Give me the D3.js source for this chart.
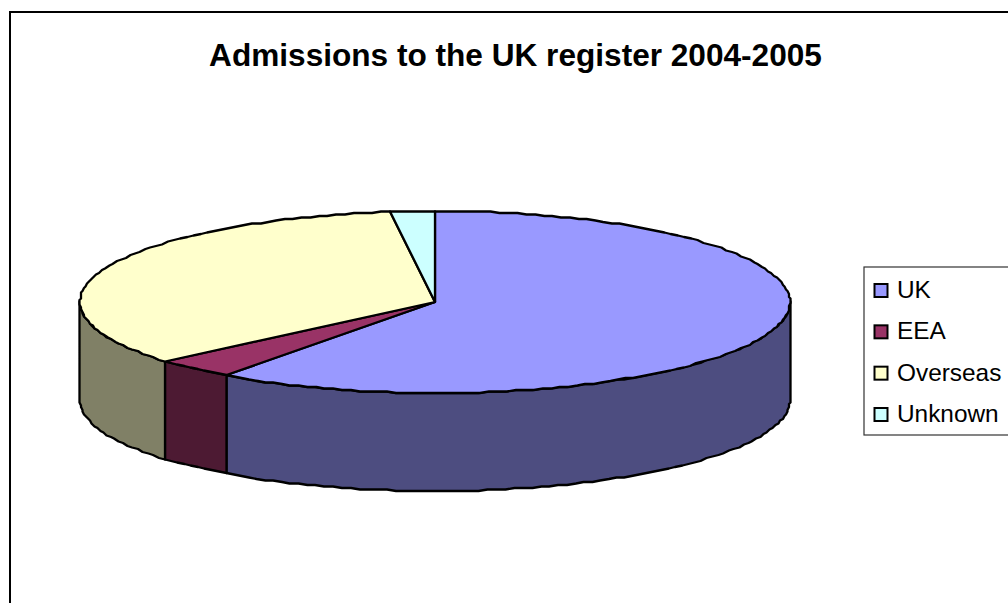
<!DOCTYPE html>
<html>
<head>
<meta charset="utf-8">
<script src="https://cdnjs.cloudflare.com/ajax/libs/d3/7.8.5/d3.min.js"></script>
<style>
  html, body { margin: 0; padding: 0; background: #fff; overflow: hidden; }
  svg { display: block; }
  text { font-family: "Liberation Sans", Arial, sans-serif; fill: #000; }
</style>
</head>
<body>
<svg id="chart" width="1008" height="603"></svg>
<script>
// Admissions by origin, percentage share of the year's intake
const categories = ["UK", "EEA", "Overseas", "Unknown"];
const shares = [60.0, 3.75, 34.25, 2.0];
const topColors = ["#9999FF", "#993366", "#FFFFCC", "#CCFFFF"];
const wallColors = ["#4D4D80", "#4D1A33", "#808066", "#668080"];
const chartTitle = "Admissions to the UK register 2004-2005";

const svg = d3.select("#chart");

// Chart frame runs off the right and bottom of the page
svg.append("rect")
  .attr("x", 10).attr("y", 12)
  .attr("width", 1100).attr("height", 700)
  .attr("fill", "#fff").attr("stroke", "#000").attr("stroke-width", 2);

svg.append("text")
  .attr("x", 515.5).attr("y", 66)
  .attr("text-anchor", "middle")
  .attr("font-size", 31.6).attr("font-weight", "bold")
  .text(chartTitle);

// Tilted pie: an ellipse for the top face and a fixed wall height
const cx = 435, cy = 302, rx = 355, ry = 91, depth = 98;
const px = d3.scaleLinear().domain([-1, 1]).range([cx - rx, cx + rx]);
const py = d3.scaleLinear().domain([-1, 1]).range([cy - ry, cy + ry]);

const slices = d3.pie().sort(null).value(d => d)(shares);
const lineGen = d3.line();
const STEP = Math.PI / 120;
const GRID = 1.5;   // coarse device grid that gives the rim its stepped look
const snap = v => Math.round(v / GRID) * GRID;

function rim(a0, a1, drop) {
  const n = Math.max(1, Math.ceil((a1 - a0) / STEP));
  return d3.range(n + 1).map(i => {
    const a = a0 + (a1 - a0) * i / n;
    return [snap(px(Math.sin(a))), snap(py(-Math.cos(a))) + drop];
  });
}

const outline = { stroke: "#000", "stroke-width": 2.3, "stroke-linejoin": "round" };
const wallStart = Math.PI / 2, wallEnd = Math.PI * 1.5;

// Walls first, only where a slice faces the viewer
const walls = svg.append("g");
slices.forEach((s, i) => {
  const a0 = Math.max(s.startAngle, wallStart);
  const a1 = Math.min(s.endAngle, wallEnd);
  if (a1 <= a0) return;
  const pts = rim(a0, a1, 0).concat(rim(a0, a1, depth).reverse());
  const p = walls.append("path")
    .attr("d", lineGen(pts) + "Z")
    .attr("fill", wallColors[i]);
  Object.entries(outline).forEach(([k, v]) => p.attr(k, v));
});

// Top faces
const tops = svg.append("g");
slices.forEach((s, i) => {
  const pts = [[px(0), py(0)]].concat(rim(s.startAngle, s.endAngle, 0));
  const p = tops.append("path")
    .attr("d", lineGen(pts) + "Z")
    .attr("fill", topColors[i]);
  Object.entries(outline).forEach(([k, v]) => p.attr(k, v));
});

// Legend box, clipped by the page edge on the right
const legend = svg.append("g");
legend.append("rect")
  .attr("x", 864).attr("y", 267)
  .attr("width", 200).attr("height", 168)
  .attr("fill", "#fff").attr("stroke", "#333").attr("stroke-width", 1.2);

const rowY = d3.scalePoint().domain(categories).range([290, 414]);
categories.forEach((c, i) => {
  legend.append("rect")
    .attr("x", 874.5).attr("y", rowY(c) - 6)
    .attr("width", 13).attr("height", 13)
    .attr("fill", topColors[i]).attr("stroke", "#000").attr("stroke-width", 2);
  legend.append("text")
    .attr("x", 897).attr("y", rowY(c) + 8)
    .attr("font-size", 24.4)
    .text(c);
});
</script>
</body>
</html>
